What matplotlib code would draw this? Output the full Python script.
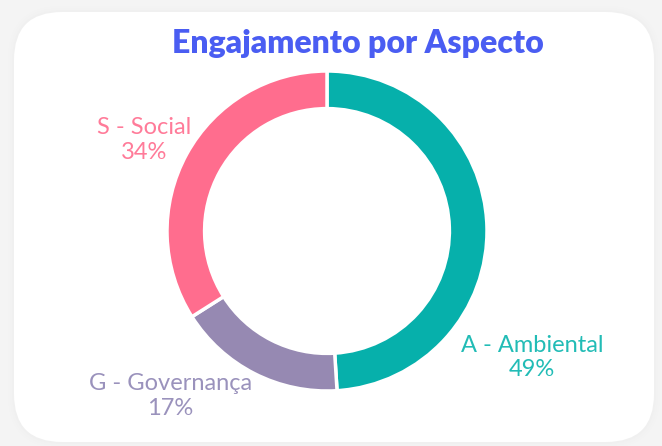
import matplotlib
matplotlib.use("Agg")
import matplotlib.pyplot as plt
from matplotlib.patches import FancyBboxPatch

categories = ["A - Ambiental", "G - Governança", "S - Social"]
values = [49, 17, 34]
colors = ["#06b0ab", "#9689b2", "#ff6d8e"]
label_colors = ["#22bcb6", "#9a92bc", "#ff7b99"]
title = "Engajamento por Aspecto"

W, H = 662, 446
fig = plt.figure(figsize=(W / 100, H / 100), dpi=100)
fig.patch.set_facecolor("#f4f4f4")

bg = fig.add_axes([0, 0, 1, 1])
bg.set_xlim(0, W)
bg.set_ylim(H, 0)
bg.axis("off")
for i, a in enumerate([0.02, 0.025, 0.03]):
    d = 6 - 2 * i
    bg.add_patch(FancyBboxPatch((14 - d, 12 - d), 640 + 2 * d, 430 + 2 * d,
                                boxstyle="round,pad=0,rounding_size=%d" % (48 + d),
                                fc="#cccccc", ec="none", alpha=a))
bg.add_patch(FancyBboxPatch((14, 12), 640, 430, boxstyle="round,pad=0,rounding_size=48",
                            fc="white", ec="none"))

bg.text(358, 44, title, ha="center", va="center", fontsize=23, fontweight="heavy",
        color="#4a5df2", family=["Lato", "DejaVu Sans"])

cx, cy, r = 327, 231, 160
ax = fig.add_axes([(cx - r) / W, (H - cy - r) / H, 2 * r / W, 2 * r / H])
wedges, _ = ax.pie(values, colors=colors, startangle=90, counterclock=False,
                   wedgeprops=dict(width=0.235, edgecolor="white", linewidth=2.5))
ax.set_xlim(-1, 1)
ax.set_ylim(-1, 1)
ax.set_aspect("equal")
ax.axis("off")

label_pos = [(1.28, -0.79), (-0.98, -1.03), (-1.14, 0.57)]
for cat, v, col, (x, y) in zip(categories, values, label_colors, label_pos):
    ax.text(x, y, f"{cat}\n{v}%", ha="center", va="center", fontsize=17,
            color=col, family=["Lato", "DejaVu Sans"], fontweight="normal",
            linespacing=1.22, clip_on=False)

fig.savefig("out.png", dpi=100, facecolor=fig.get_facecolor())
